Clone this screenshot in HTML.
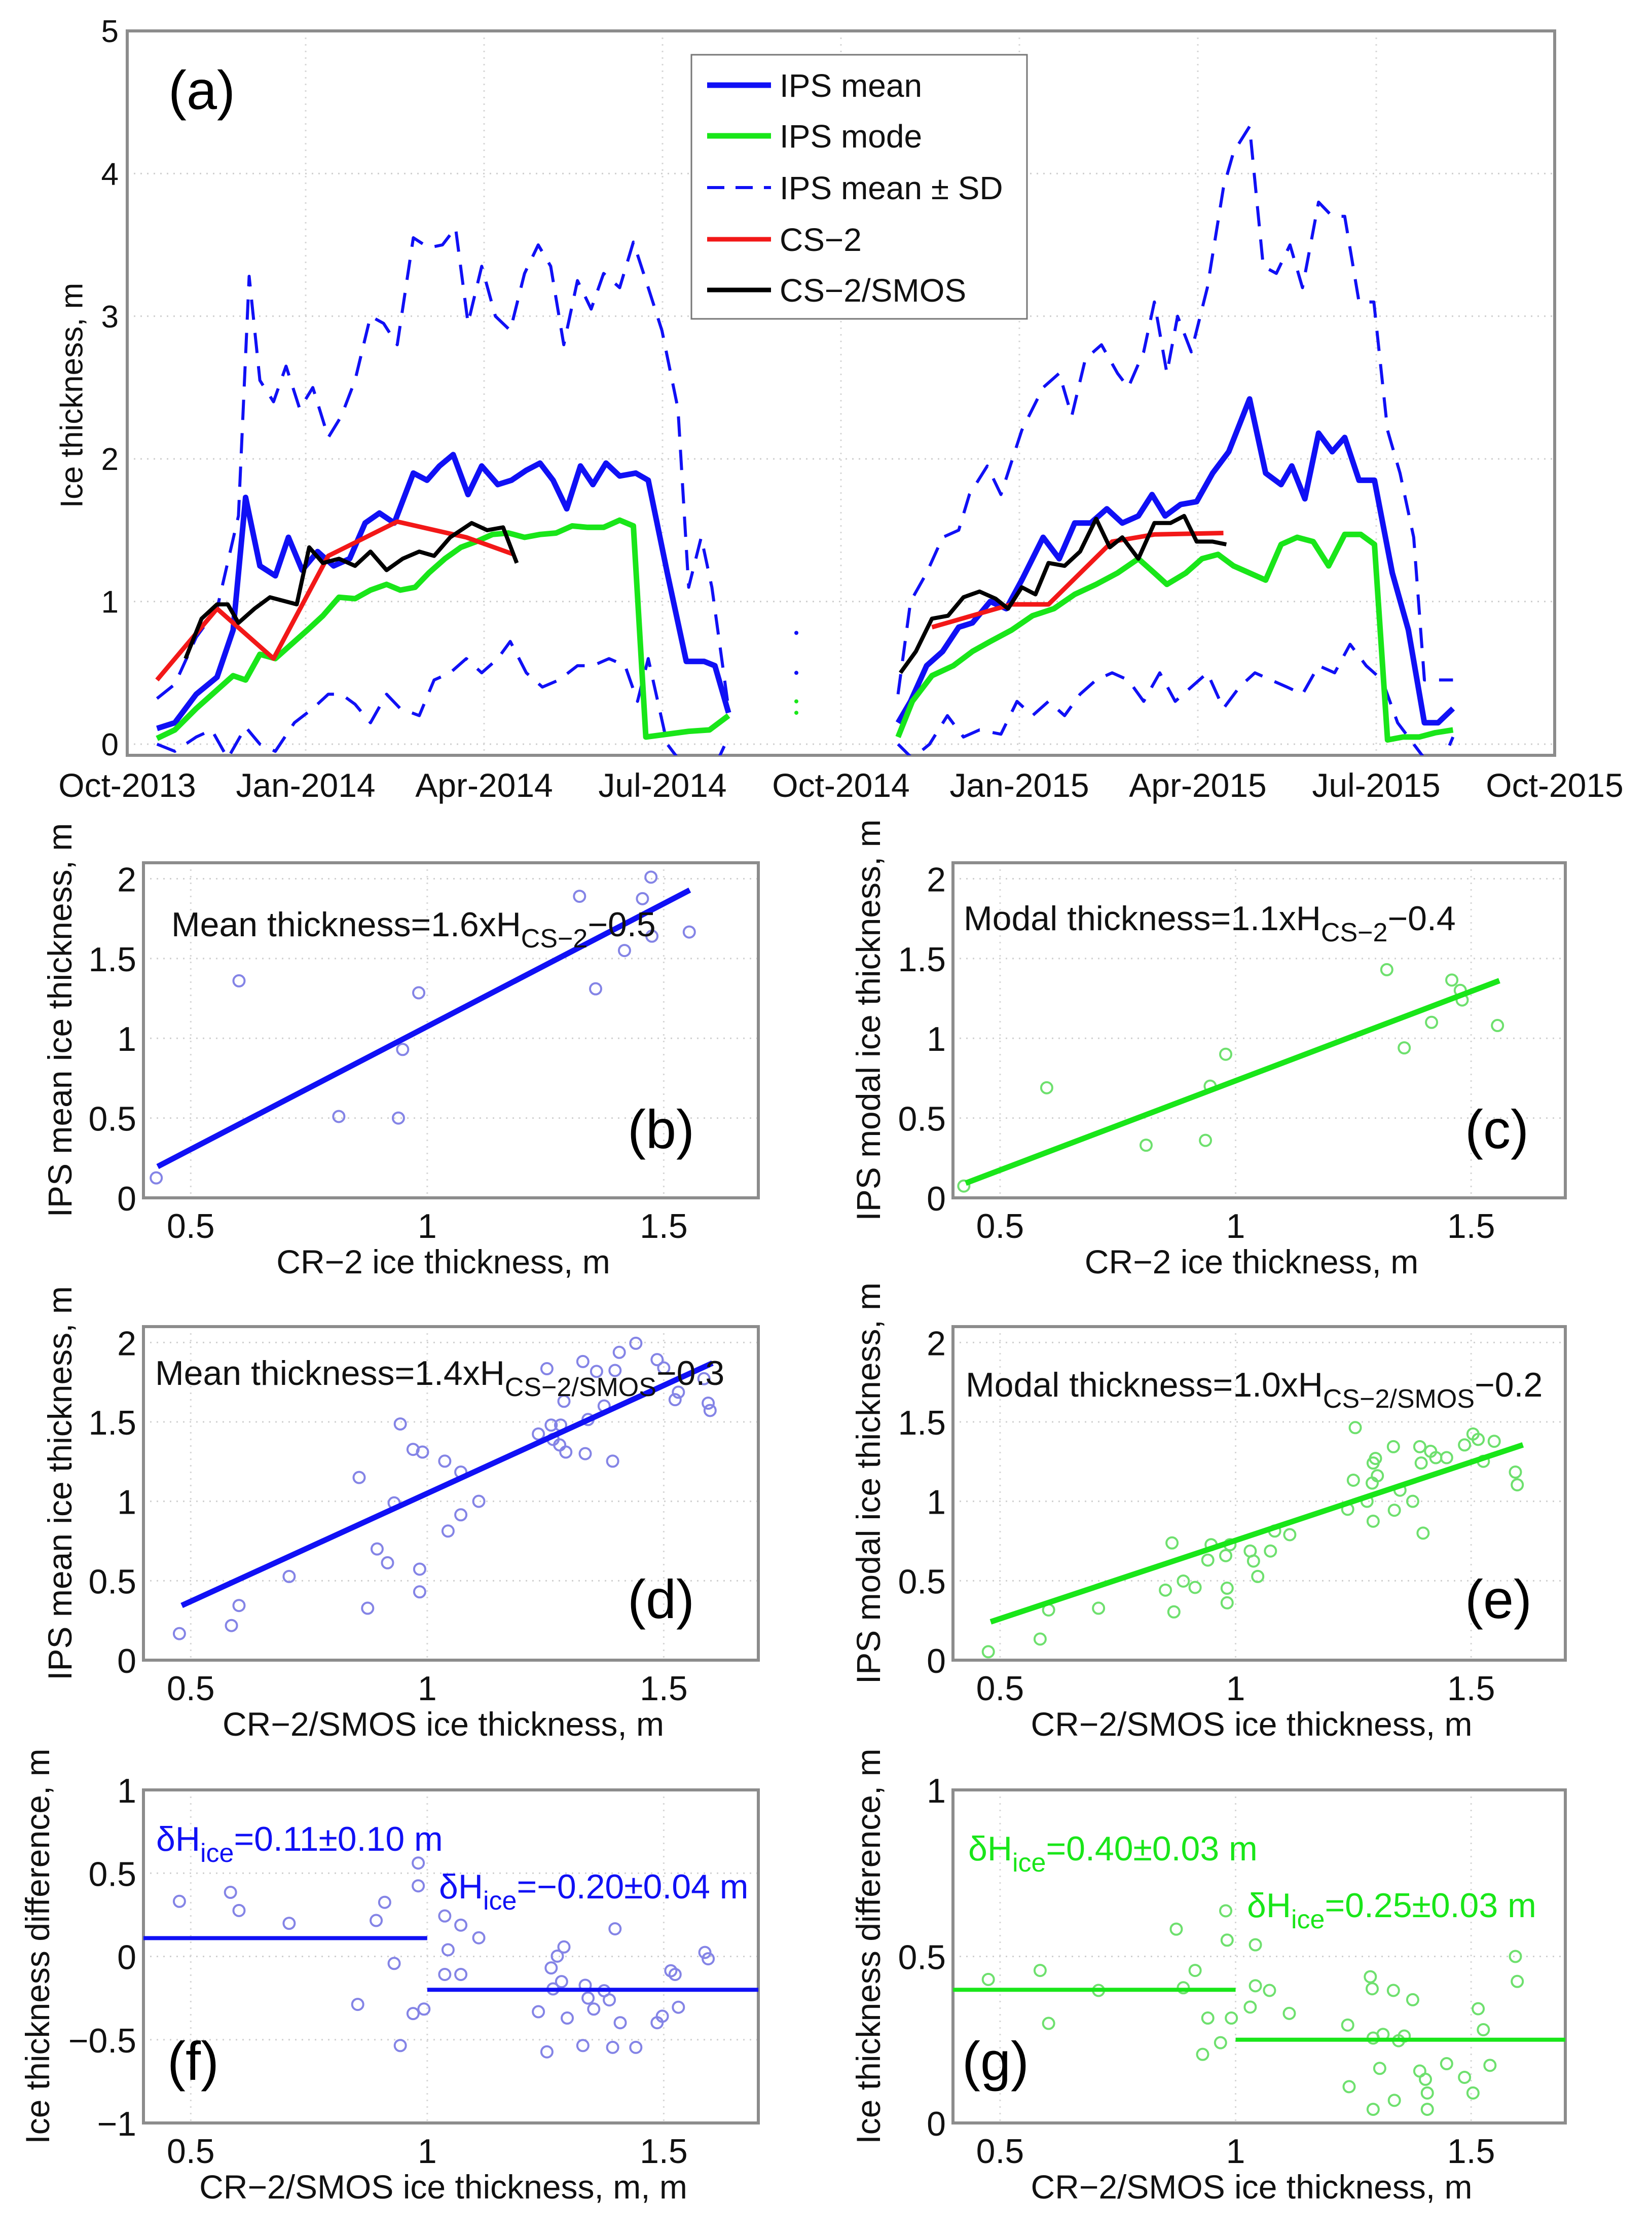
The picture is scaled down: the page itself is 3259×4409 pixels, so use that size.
<!DOCTYPE html>
<html><head><meta charset="utf-8"><style>
html,body{margin:0;padding:0;background:#fff;}
svg{display:block;font-family:"Liberation Sans",Arial,sans-serif;}
</style></head><body>
<svg id="chart" width="3259" height="4409" viewBox="0 0 3259 4409" xmlns="http://www.w3.org/2000/svg"></svg>
<script>
// ---------- Panel (a) data: months since 1 Oct 2013, thickness (m); null = gap ----------
const aTickLabels=["Oct-2013","Jan-2014","Apr-2014","Jul-2014","Oct-2014","Jan-2015","Apr-2015","Jul-2015","Oct-2015"];
const aYTicks=[0,1,2,3,4,5];
const meanMonths=[0.5,0.8,1.16,1.51,1.78,1.99,2.23,2.49,2.71,2.94,3.2,3.47,3.74,4.0,4.24,4.49,4.81,5.04,5.25,5.48,5.73,5.96,6.23,6.46,6.71,6.94,7.16,7.39,7.62,7.83,8.05,8.28,8.55,8.76,9.08,9.4,9.7,9.88,10.11,null,
12.96,13.17,13.44,13.71,13.98,14.21,14.51,14.78,15.04,15.4,15.67,15.93,16.2,16.47,16.73,17.0,17.23,17.45,17.71,17.98,18.25,18.52,18.87,19.14,19.4,19.58,19.8,20.03,20.26,20.47,20.71,20.97,21.27,21.54,21.81,22.04,22.29];
const meanValues=[0.11,0.15,0.35,0.47,0.8,1.73,1.25,1.18,1.45,1.22,1.35,1.25,1.3,1.55,1.62,1.55,1.9,1.85,1.95,2.03,1.75,1.95,1.82,1.85,1.92,1.97,1.85,1.65,1.95,1.82,1.97,1.88,1.9,1.85,1.2,0.58,0.58,0.55,0.22,null,
0.15,0.3,0.55,0.65,0.82,0.85,1.0,0.95,1.15,1.45,1.3,1.55,1.55,1.65,1.55,1.6,1.75,1.6,1.68,1.7,1.9,2.05,2.42,1.9,1.82,1.95,1.72,2.18,2.05,2.15,1.85,1.85,1.2,0.8,0.15,0.15,0.25];
const modeMonths=[0.5,0.8,1.16,1.51,1.78,1.99,2.23,2.49,2.76,3.03,3.29,3.56,3.83,4.09,4.36,4.59,4.84,5.07,5.34,5.61,5.87,6.14,6.41,6.68,6.94,7.21,7.48,7.74,8.01,8.28,8.51,8.72,9.08,9.44,9.79,10.11,null,
12.96,13.2,13.53,13.89,14.21,14.51,14.87,15.22,15.58,15.93,16.29,16.65,17.0,17.27,17.48,17.8,18.07,18.34,18.6,18.87,19.14,19.4,19.67,19.94,20.2,20.47,20.74,20.97,21.19,21.45,21.72,21.99,22.29];
const modeValues=[0.04,0.1,0.25,0.38,0.48,0.45,0.63,0.6,0.7,0.8,0.9,1.03,1.02,1.08,1.12,1.08,1.1,1.2,1.3,1.38,1.42,1.47,1.48,1.45,1.47,1.48,1.53,1.52,1.52,1.57,1.53,0.05,0.07,0.09,0.1,0.2,null,
0.05,0.3,0.48,0.55,0.65,0.72,0.8,0.9,0.95,1.05,1.12,1.2,1.3,1.2,1.12,1.2,1.3,1.33,1.25,1.2,1.15,1.4,1.45,1.42,1.25,1.47,1.47,1.4,0.03,0.05,0.05,0.08,0.1];
const sdUpMonths=[0.5,0.8,1.16,1.51,1.87,2.05,2.23,2.46,2.67,2.9,3.12,3.38,3.6,3.83,4.09,4.31,4.54,4.81,5.07,5.3,5.52,5.73,5.96,6.19,6.44,6.68,6.91,7.12,7.34,7.57,7.8,8.01,8.28,8.51,8.76,8.99,9.26,9.44,9.65,9.83,10.11,null,
12.96,13.17,13.44,13.71,13.98,14.16,14.46,14.69,15.04,15.4,15.67,15.88,16.11,16.38,16.65,16.83,17.09,17.27,17.48,17.66,17.89,18.16,18.43,18.6,18.87,19.1,19.32,19.55,19.76,20.03,20.26,20.47,20.71,20.96,21.19,21.4,21.63,21.81,22.04,22.29];
const sdUpValues=[0.32,0.42,0.75,0.95,1.6,3.28,2.55,2.4,2.65,2.35,2.5,2.15,2.3,2.55,3.0,2.95,2.8,3.55,3.48,3.5,3.62,2.95,3.35,3.0,2.9,3.3,3.5,3.35,2.8,3.25,3.05,3.3,3.2,3.52,3.2,2.9,2.35,1.1,1.45,1.1,0.25,null,
0.35,1.0,1.2,1.45,1.5,1.75,1.95,1.75,2.2,2.5,2.6,2.3,2.7,2.8,2.6,2.5,2.75,3.1,2.6,3.0,2.75,3.2,3.9,4.15,4.33,3.35,3.3,3.5,3.2,3.8,3.7,3.7,3.1,3.1,2.2,1.9,1.45,0.45,0.45,0.45];
const sdLoMonths=[0.5,0.8,1.16,1.42,1.69,1.99,2.23,2.49,2.81,3.12,3.38,3.6,3.83,4.09,4.36,4.59,4.91,5.16,5.43,5.7,5.96,6.23,6.44,6.71,6.98,7.26,7.57,7.83,8.1,8.37,8.58,8.76,9.08,9.44,9.83,10.11,null,
12.96,13.2,13.49,13.79,14.06,14.33,14.69,14.96,15.22,15.49,15.76,16.02,16.29,16.56,16.83,17.09,17.36,17.62,17.89,18.16,18.43,18.7,18.96,19.23,19.5,19.76,20.03,20.3,20.56,20.83,21.1,21.36,21.63,21.81,22.04,22.29];
const sdLoValues=[0.0,-0.05,0.05,0.1,-0.1,0.12,0.0,-0.05,0.15,0.25,0.35,0.35,0.28,0.15,0.35,0.25,0.2,0.45,0.5,0.6,0.5,0.6,0.72,0.5,0.4,0.45,0.55,0.55,0.6,0.55,0.3,0.6,0.0,-0.2,-0.2,0.05,null,
0.0,-0.1,0.0,0.2,0.05,0.1,0.07,0.3,0.2,0.3,0.2,0.35,0.45,0.5,0.45,0.3,0.5,0.3,0.4,0.5,0.25,0.4,0.5,0.45,0.4,0.35,0.55,0.5,0.7,0.55,0.45,0.15,0.0,-0.1,-0.2,0.05];
const cs2Months=[0.5,1.51,2.46,3.38,4.54,5.7,6.5,null,13.53,14.87,15.49,16.56,17.27,18.43];
const cs2Values=[0.45,0.95,0.6,1.32,1.56,1.45,1.33,null,0.82,0.98,0.98,1.42,1.47,1.48];
const smosMonths=[0.98,1.25,1.51,1.69,1.87,2.14,2.4,2.67,2.85,3.06,3.29,3.56,3.83,4.09,4.36,4.63,4.91,5.16,5.43,5.79,6.05,6.32,6.55,null,
13.0,13.26,13.53,13.8,14.06,14.33,14.6,14.81,15.04,15.27,15.49,15.76,16.02,16.29,16.52,16.73,17.0,17.27,17.54,17.77,17.98,18.25,18.48];
const smosValues=[0.6,0.88,0.98,0.98,0.85,0.95,1.03,1.0,0.98,1.38,1.27,1.3,1.25,1.35,1.22,1.3,1.35,1.32,1.45,1.55,1.5,1.52,1.27,null,
0.5,0.65,0.88,0.9,1.03,1.07,1.02,0.95,1.1,1.05,1.27,1.25,1.35,1.58,1.38,1.45,1.3,1.55,1.55,1.6,1.42,1.42,1.4];
const gapDotMonths=[11.25,11.25,11.25,11.25];
const gapDotValues=[0.78,0.5,0.3,0.22];

// ---------- Scatter panels data ----------
const xTicks=[0.5,1,1.5];
const yTicksMain=[0,0.5,1,1.5,2];
const yTicksF=[-1,-0.5,0,0.5,1];
const yTicksG=[0,0.5,1];
const bX=[0.427,0.602,0.813,0.939,0.948,0.982,1.322,1.356,1.417,1.455,1.473,1.475,1.554];
const bY=[0.125,1.36,0.51,0.5,0.93,1.285,1.89,1.31,1.55,1.875,2.01,1.64,1.666];
const bFit=[1.54,-0.466,0.43,1.555];
const cX=[0.423,0.599,0.81,0.936,0.946,0.979,1.321,1.358,1.416,1.459,1.477,1.481,1.556];
const cY=[0.074,0.69,0.33,0.36,0.70,0.90,1.43,0.94,1.10,1.365,1.30,1.24,1.08];
const cFit=[1.12,-0.386,0.427,1.56];
const dX=[0.476,0.586,0.602,0.708,0.856,0.874,0.894,0.916,0.930,0.943,0.970,0.984,0.984,0.990,1.037,1.044,1.071,1.071,1.109,1.235,1.253,1.262,1.266,1.280,1.282,1.289,1.293,1.329,1.334,1.340,1.358,1.374,1.392,1.397,1.406,1.441,1.486,1.500,1.524,1.531,1.585,1.594,1.598];
const dY=[0.167,0.218,0.344,0.527,1.15,0.327,0.70,0.613,0.99,1.487,1.327,0.43,0.573,1.31,1.253,0.813,1.184,0.915,1.0,1.424,1.835,1.48,1.39,1.355,1.48,1.63,1.31,1.88,1.30,1.515,1.818,1.60,1.253,1.824,1.938,1.995,1.892,1.84,1.64,1.687,1.772,1.618,1.572];
const dFit=[1.36,-0.31,0.481,1.603];
const eX=[0.475,0.585,0.603,0.709,0.851,0.869,0.889,0.914,0.865,0.941,0.948,0.979,0.982,0.982,0.988,1.031,1.038,1.047,1.074,1.083,1.115,1.238,1.250,1.254,1.279,1.290,1.292,1.292,1.297,1.301,1.335,1.337,1.349,1.376,1.391,1.394,1.398,1.414,1.425,1.448,1.486,1.504,1.515,1.526,1.549,1.594,1.598];
const eY=[0.053,0.133,0.316,0.327,0.441,0.304,0.498,0.458,0.738,0.63,0.727,0.658,0.453,0.361,0.727,0.687,0.624,0.527,0.687,0.813,0.79,0.95,1.133,1.464,1.0,1.115,1.241,0.875,1.27,1.161,1.344,0.944,1.07,1.0,1.344,1.241,0.80,1.315,1.275,1.275,1.355,1.424,1.39,1.252,1.378,1.184,1.104];
const eFit=[0.986,-0.232,0.48,1.61];
const fX=[0.476,0.584,0.602,0.708,0.853,0.892,0.910,0.930,0.943,0.970,0.981,0.981,0.993,1.037,1.037,1.044,1.071,1.071,1.109,1.235,1.253,1.262,1.266,1.275,1.284,1.289,1.296,1.329,1.334,1.340,1.352,1.374,1.385,1.392,1.397,1.408,1.441,1.486,1.497,1.515,1.524,1.531,1.587,1.594];
const fY=[0.331,0.385,0.276,0.199,-0.288,0.216,0.325,-0.042,-0.535,-0.343,0.561,0.424,-0.316,0.243,-0.108,0.04,0.188,-0.108,0.112,-0.332,-0.573,-0.069,-0.195,0.002,-0.151,0.057,-0.37,-0.535,-0.173,-0.25,-0.316,-0.206,-0.261,-0.546,0.166,-0.398,-0.546,-0.398,-0.359,-0.086,-0.108,-0.305,0.024,-0.014];
const fMeans=[0.11,-0.20];
const gX=[0.475,0.585,0.603,0.709,0.874,0.889,0.914,0.930,0.941,0.968,0.979,0.982,0.991,1.031,1.042,1.042,1.072,1.114,1.238,1.241,1.286,1.290,1.292,1.292,1.306,1.313,1.335,1.337,1.346,1.358,1.376,1.391,1.403,1.407,1.407,1.448,1.486,1.504,1.515,1.526,1.540,1.594,1.598];
const gY=[0.431,0.458,0.299,0.398,0.582,0.406,0.458,0.206,0.315,0.241,0.637,0.549,0.315,0.348,0.535,0.412,0.398,0.329,0.294,0.109,0.439,0.403,0.255,0.041,0.164,0.266,0.398,0.068,0.247,0.261,0.37,0.156,0.131,0.09,0.041,0.178,0.137,0.09,0.343,0.28,0.173,0.5,0.425];
const gMeans=[0.40,0.25];

// ---------- drawing ----------
const NS='http://www.w3.org/2000/svg';
const svg=document.getElementById('chart');
function mk(tag,parent){const e=document.createElementNS(NS,tag);parent.appendChild(e);return e;}
function at(e,o){for(const k in o)e.setAttribute(k,o[k]);return e;}
const BLUE='#1010f5',GREEN='#19e619',RED='#f21818',FRAME='#8c8c8c';
function pathD(xs,ys,fx,fy){let d='',pen=false;for(let i=0;i<xs.length;i++){if(xs[i]===null||ys[i]===null){pen=false;continue;}d+=(pen?'L':'M')+fx(xs[i]).toFixed(1)+','+fy(ys[i]).toFixed(1);pen=true;}return d;}

// ===== Panel (a) =====
const A={l:251,r:3067,t:61,b:1490,y0:1468,perM:281.4};
const xA=m=>A.l+m*(A.r-A.l)/24;
const yA=v=>A.y0-v*A.perM;
const gA=mk('g',svg);


const defs=mk('defs',svg);
const cp=at(mk('clipPath',defs),{id:'clipA'});
at(mk('rect',cp),{x:A.l,y:A.t,width:A.r-A.l,height:A.b-A.t});
aYTicks.forEach(v=>{
  const gl=at(mk('line',gA),{x1:A.l,x2:A.r,y1:yA(v),y2:yA(v),stroke:'#cfcfcf','stroke-width':3,'stroke-dasharray':'3 10'});
  
  
  const tl=at(mk('text',gA),{x:234,y:yA(v)+22,'font-size':62,'text-anchor':'end',fill:'#111'});
  tl.textContent=v;
  
  
});
aTickLabels.forEach((lab,i)=>{
  const x=xA(i*3);
  const gl=at(mk('line',gA),{x1:x,x2:x,y1:A.t,y2:A.b,stroke:'#d6d6d6','stroke-width':3,'stroke-dasharray':'3 10'});
  
  
  const tl=at(mk('text',gA),{x:x,y:1572,'font-size':66,'text-anchor':'middle',fill:'#111'});
  tl.textContent=lab;
  
  
});
const frameA=at(mk('rect',gA),{x:A.l,y:A.t,width:A.r-A.l,height:A.b-A.t,fill:'none',stroke:FRAME,'stroke-width':6});


const ylabA=at(mk('text',gA),{transform:'translate(142,780) rotate(-90)','font-size':62,'text-anchor':'middle','dominant-baseline':'central',fill:'#111'});
ylabA.textContent='Ice thickness, m';


const series=[
 [sdUpMonths,sdUpValues,BLUE,6,'40 26','sd-upper-line'],
 [sdLoMonths,sdLoValues,BLUE,6,'40 26','sd-lower-line'],
 [meanMonths,meanValues,BLUE,11,null,'ips-mean-line'],
 [modeMonths,modeValues,GREEN,11,null,'ips-mode-line'],
 [cs2Months,cs2Values,RED,9,null,'cs2-line'],
 [smosMonths,smosValues,'#000',8,null,'cs2-smos-line']];
const gSer=at(mk('g',gA),{'clip-path':'url(#clipA)'});
series.forEach(s=>{
  const p=at(mk('path',gSer),{d:pathD(s[0],s[1],xA,yA),fill:'none',stroke:s[2],'stroke-width':s[3],'stroke-linejoin':'round'});
  if(s[4])p.setAttribute('stroke-dasharray',s[4]);
  
  
});
gapDotMonths.forEach((m,i)=>{
  const c=at(mk('circle',gSer),{cx:xA(m),cy:yA(gapDotValues[i]),r:4,fill:i<2?BLUE:GREEN});
  
  
});
const labA=at(mk('text',gA),{x:332,y:215,'font-size':108,fill:'#000'});
labA.textContent='(a)';


const lg=mk('g',gA);


at(mk('rect',lg),{x:1364,y:108,width:662,height:521,fill:'#fff',stroke:'#777','stroke-width':3});
const legItems=[['IPS mean',BLUE,11,null],['IPS mode',GREEN,11,null],['IPS mean \u00b1 SD',BLUE,6,'34 22'],['CS\u22122',RED,9,null],['CS\u22122/SMOS','#000',9,null]];
const legY=[168,268,370,472,572];
legItems.forEach((it,i)=>{
  const ge=mk('g',lg);
  
  
  const ln=at(mk('line',ge),{x1:1395,x2:1521,y1:legY[i],y2:legY[i],stroke:it[1],'stroke-width':it[2]});
  if(it[3])ln.setAttribute('stroke-dasharray',it[3]);
  const t=at(mk('text',ge),{x:1538,y:legY[i]+23,'font-size':64,fill:'#111'});
  t.textContent=it[0];
});

// ===== Scatter panels =====
function scatter(cfg){
  const g=mk('g',svg);
  
  
  const fx=v=>cfg.l+(v-0.4)/(1.3)*(cfg.r-cfg.l);
  const fy=v=>cfg.b-(v-cfg.ymin)/(cfg.ymax-cfg.ymin)*(cfg.b-cfg.t);
  cfg.yt.forEach(v=>{
    const gl=at(mk('line',g),{x1:cfg.l,x2:cfg.r,y1:fy(v),y2:fy(v),stroke:'#d0d0d0','stroke-width':3,'stroke-dasharray':'3 10'});
    
    
    const tl=at(mk('text',g),{x:cfg.l-14,y:fy(v)+25,'font-size':68,'text-anchor':'end',fill:'#111'});
    tl.textContent=(v<0?'\u2212'+(-v):String(v));
    
    
  });
  xTicks.forEach(v=>{
    const gl=at(mk('line',g),{x1:fx(v),x2:fx(v),y1:cfg.t,y2:cfg.b,stroke:'#d6d6d6','stroke-width':3,'stroke-dasharray':'3 10'});
    
    
    const tl=at(mk('text',g),{x:fx(v),y:cfg.b+79,'font-size':68,'text-anchor':'middle',fill:'#111'});
    tl.textContent=String(v);
    
    
  });
  const fr=at(mk('rect',g),{x:cfg.l,y:cfg.t,width:cfg.r-cfg.l,height:cfg.b-cfg.t,fill:'none',stroke:FRAME,'stroke-width':6});
  
  
  cfg.xs.forEach((x,i)=>{
    const c=at(mk('circle',g),{cx:fx(x),cy:fy(cfg.ys[i]),r:11,fill:'none',stroke:cfg.pc,'stroke-width':4});
    
    
  });
  if(cfg.fit){
    const f=cfg.fit;
    const ln=at(mk('line',g),{x1:fx(f[2]),y1:fy(f[0]*f[2]+f[1]),x2:fx(f[3]),y2:fy(f[0]*f[3]+f[1]),stroke:cfg.lc,'stroke-width':11});
    
    
  }
  if(cfg.means){
    const l1=at(mk('line',g),{x1:cfg.l,x2:fx(1.0),y1:fy(cfg.means[0]),y2:fy(cfg.means[0]),stroke:cfg.lc,'stroke-width':8});
    
    
    const l2=at(mk('line',g),{x1:fx(1.0),x2:cfg.r,y1:fy(cfg.means[1]),y2:fy(cfg.means[1]),stroke:cfg.lc,'stroke-width':8});
    
    
  }
  cfg.texts.forEach(t=>{
    const tx=at(mk('text',g),{x:t.x,y:t.y,'font-size':t.fs||68,fill:t.c||'#111'});
    tx.innerHTML=t.h;
    
    
  });
  const xl=at(mk('text',g),{x:(cfg.l+cfg.r)/2-15,y:cfg.b+149,'font-size':66,'text-anchor':'middle',fill:'#111'});
  xl.textContent=cfg.xlab;
  
  
  const yl=at(mk('text',g),{transform:'translate('+cfg.ylx+','+((cfg.t+cfg.b)/2-20)+') rotate(-90)','font-size':66,'text-anchor':'middle','dominant-baseline':'central',fill:'#111'});
  yl.textContent=cfg.ylab;
  
  
  const pl=at(mk('text',g),{x:cfg.pl[0],y:cfg.pl[1],'font-size':108,fill:'#000'});
  pl.textContent=cfg.plab;
  
  
}
const L={l:283,r:1496},R={l:1880,r:3088};
const rows=[{t:1702,b:2363},{t:2617,b:3275},{t:3531,b:4188}];
const PB='#8484e6',PG='#6ee06e';
const sub=(s)=>'<tspan dy="22" font-size="52">'+s+'</tspan><tspan dy="-22">';
scatter({name:'panel-b-scatter',l:L.l,r:L.r,t:rows[0].t,b:rows[0].b,ymin:0,ymax:2.1,yt:yTicksMain,xs:bX,ys:bY,pc:PB,lc:BLUE,fit:bFit,
 xlab:'CR\u22122 ice thickness, m',ylab:'IPS mean ice thickness, m',ylx:118,plab:'(b)',pl:[1238,2265],
 texts:[{x:338,y:1847,n:'regression-equation',h:'Mean thickness=1.6xH'+sub('CS\u22122')+'\u22120.5</tspan>'}]});
scatter({name:'panel-c-scatter',l:R.l,r:R.r,t:rows[0].t,b:rows[0].b,ymin:0,ymax:2.1,yt:yTicksMain,xs:cX,ys:cY,pc:PG,lc:GREEN,fit:cFit,
 xlab:'CR\u22122 ice thickness, m',ylab:'IPS modal ice thickness, m',ylx:1713,plab:'(c)',pl:[2890,2265],
 texts:[{x:1901,y:1835,n:'regression-equation',h:'Modal thickness=1.1xH'+sub('CS\u22122')+'\u22120.4</tspan>'}]});
scatter({name:'panel-d-scatter',l:L.l,r:L.r,t:rows[1].t,b:rows[1].b,ymin:0,ymax:2.1,yt:yTicksMain,xs:dX,ys:dY,pc:PB,lc:BLUE,fit:dFit,
 xlab:'CR\u22122/SMOS ice thickness, m',ylab:'IPS mean ice thickness, m',ylx:118,plab:'(d)',pl:[1238,3192],
 texts:[{x:306,y:2732,n:'regression-equation',h:'Mean thickness=1.4xH'+sub('CS\u22122/SMOS')+'\u22120.3</tspan>'}]});
scatter({name:'panel-e-scatter',l:R.l,r:R.r,t:rows[1].t,b:rows[1].b,ymin:0,ymax:2.1,yt:yTicksMain,xs:eX,ys:eY,pc:PG,lc:GREEN,fit:eFit,
 xlab:'CR\u22122/SMOS ice thickness, m',ylab:'IPS modal ice thickness, m',ylx:1713,plab:'(e)',pl:[2890,3192],
 texts:[{x:1905,y:2755,n:'regression-equation',h:'Modal thickness=1.0xH'+sub('CS\u22122/SMOS')+'\u22120.2</tspan>'}]});
scatter({name:'panel-f-scatter',l:L.l,r:L.r,t:rows[2].t,b:rows[2].b,ymin:-1,ymax:1,yt:yTicksF,xs:fX,ys:fY,pc:PB,lc:BLUE,means:fMeans,
 xlab:'CR\u22122/SMOS ice thickness, m, m',ylab:'Ice thickness difference, m',ylx:74,plab:'(f)',pl:[330,4103],
 texts:[{x:308,y:3651,c:BLUE,n:'difference-annotation-low',h:'\u03b4H'+sub('ice')+'=0.11\u00b10.10 m</tspan>'},
        {x:866,y:3745,c:BLUE,n:'difference-annotation-high',h:'\u03b4H'+sub('ice')+'=\u22120.20\u00b10.04 m</tspan>'}]});
scatter({name:'panel-g-scatter',l:R.l,r:R.r,t:rows[2].t,b:rows[2].b,ymin:0,ymax:1,yt:yTicksG,xs:gX,ys:gY,pc:PG,lc:GREEN,means:gMeans,
 xlab:'CR\u22122/SMOS ice thickness, m',ylab:'Ice thickness difference, m',ylx:1713,plab:'(g)',pl:[1898,4103],
 texts:[{x:1910,y:3670,c:GREEN,n:'difference-annotation-low',h:'\u03b4H'+sub('ice')+'=0.40\u00b10.03 m</tspan>'},
        {x:2460,y:3782,c:GREEN,n:'difference-annotation-high',h:'\u03b4H'+sub('ice')+'=0.25\u00b10.03 m</tspan>'}]});
</script>
</body></html>
